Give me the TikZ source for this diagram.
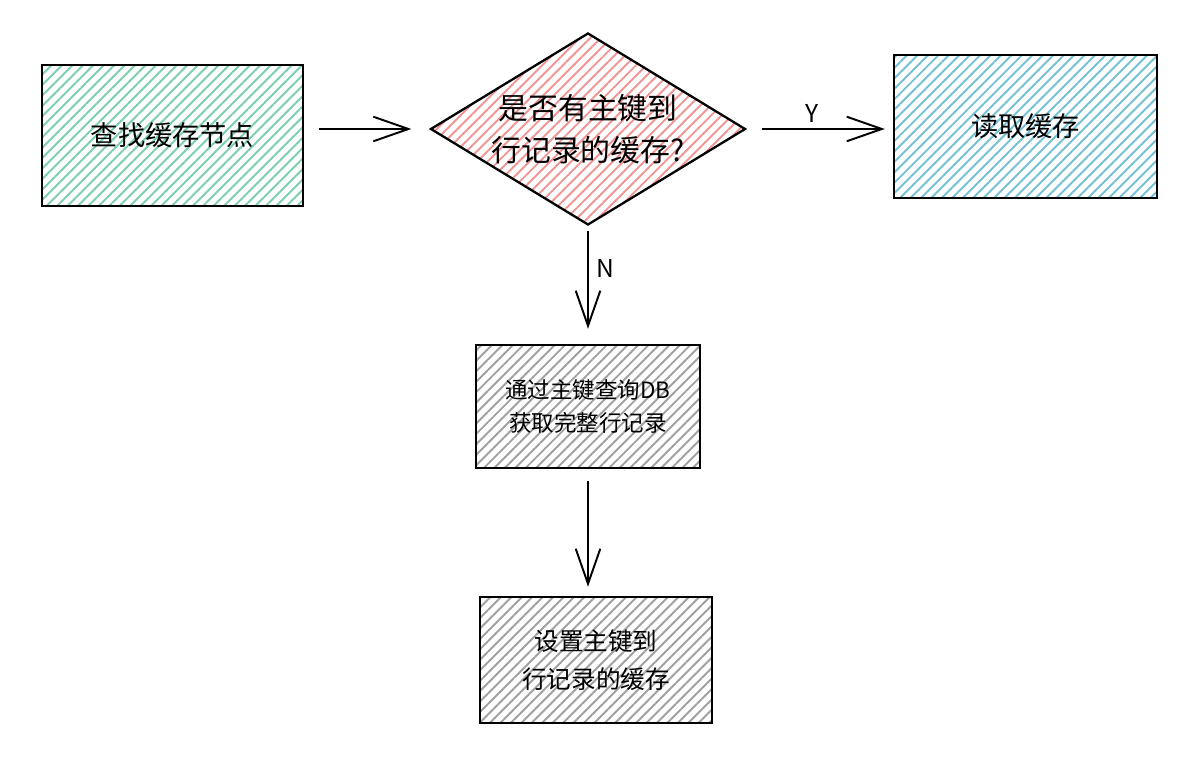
\documentclass[tikz,border=0pt]{standalone}
\usepackage{fontspec}
\setmainfont{Noto Sans CJK SC}
\usetikzlibrary{shapes.geometric,patterns.meta,arrows.meta}
\definecolor{hgreen}{HTML}{7CCFAE}
\definecolor{hred}{HTML}{F09494}
\definecolor{hblue}{HTML}{74C0D4}
\definecolor{hgray}{HTML}{A0A0A0}

\begin{document}
\begin{tikzpicture}[
    box/.style={draw=black, line width=1.4pt, rectangle, inner sep=0pt, align=center},
    hatch/.style={pattern={Lines[angle=45,distance=4.2pt,line width=1.1pt]}, pattern color=#1},
    decide/.style={draw=black, line width=1.3pt, diamond, aspect=1.64, inner sep=0pt, align=center},
    flow/.style={line width=1.1pt, -{Straight Barb[length=20pt,width=14pt]}},
    lbl/.style={font=\fontsize{14}{16}\selectfont}
  ]
  \useasboundingbox (0,0) rectangle (24.08,-15.28);
  \draw
    (3.45,-2.71) node[box, hatch=hgreen, minimum width=5.22cm, minimum height=2.82cm,
      font=\fontsize{15.5}{20}\selectfont] (find){查找缓存节点}
    (11.76,-2.58) node[decide, hatch=hred, minimum width=6.3cm, minimum height=3.84cm,
      font=\fontsize{17}{24}\selectfont] (check){是否有主键到\\行记录的缓存?}
    (20.51,-2.53) node[box, hatch=hblue, minimum width=5.26cm, minimum height=2.86cm,
      font=\fontsize{15.5}{20}\selectfont] (read){读取缓存}
    (11.76,-8.13) node[box, hatch=hgray, minimum width=4.48cm, minimum height=2.46cm,
      font=\fontsize{12.8}{19}\selectfont] (query){通过主键查询DB\\获取完整行记录}
    (11.92,-13.2) node[box, hatch=hgray, minimum width=4.64cm, minimum height=2.52cm,
      font=\fontsize{14}{21.5}\selectfont] (store){设置主键到\\行记录的缓存};
  \begin{scope}[flow]
    \draw[shorten <=0.3cm, shorten >=0.36cm] (find.east |- check.west) -- (check.west);
    \draw[shorten <=0.3cm, shorten >=0.16cm] (check.east) -- (check.east -| read.west)
      node[lbl, pos=0.45, above]{Y};
    \draw[shorten <=0.1cm, shorten >=0.3cm] (check.south) -- (query.north)
      node[lbl, pos=0.36, right=1pt]{N};
    \draw[shorten <=0.24cm, shorten >=0.18cm] (query.south) -- (query.south |- store.north);
  \end{scope}
\end{tikzpicture}
\end{document}
